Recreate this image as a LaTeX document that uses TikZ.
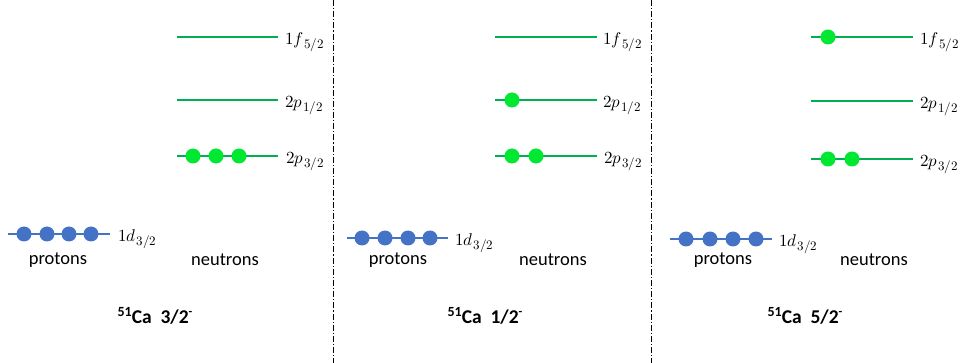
\documentclass[tikz,border=0pt]{standalone}
\usepackage{fontspec}
\setmainfont{Carlito}
\usepackage{unicode-math}
\setmathfont{Latin Modern Math}
\definecolor{pblue}{RGB}{68,114,196}
\definecolor{nline}{RGB}{0,176,80}
\definecolor{ndot}{RGB}{0,232,50}
\newcommand{\lvl}[3]{\fontsize{17}{19}\selectfont$#1#2$\kern0.6pt\raisebox{-3.4pt}{\fontsize{13}{14}\selectfont$#3$}}
\newcommand{\catitle}[1]{\raisebox{7pt}{\fontsize{14}{15}\selectfont$\mathbf{51}$}\bfseries Ca\ \ #1\raisebox{8pt}{\fontsize{12}{13}\selectfont -}}
\tikzset{
  x=1pt,y=-1pt,
  nlevel/.style={draw=nline,line width=1.8pt},
  plevel/.style={draw=pblue,line width=1.8pt},
  ndotst/.style={circle,fill=ndot,inner sep=0pt,minimum size=15pt},
  pdotst/.style={circle,fill=pblue,inner sep=0pt,minimum size=15pt},
  lvlabel/.style={anchor=base west,inner sep=0pt},
  sidelabel/.style={font=\fontsize{18.5}{20}\selectfont,inner sep=0pt},
  titlest/.style={font=\fontsize{19.5}{21}\selectfont,inner sep=0pt,anchor=base},
  divider/.style={draw=black,line width=0.8pt,dash pattern=on 6pt off 2pt on 1.2pt off 2pt}
}
\begin{document}
\begin{tikzpicture}
\useasboundingbox (0,0) rectangle (963,363);
% dividers
\coordinate (d1t) at (333,0); \coordinate (d1b) at (333,363);
\coordinate (d2t) at (651,0); \coordinate (d2b) at (651,363);
\draw[divider] (d1t) -- (d1b);
\draw[divider] (d2t) -- (d2b);

% ---------- panel 1 ----------
\coordinate (a1fL) at (177,37); \coordinate (a1fR) at (278,37);
\coordinate (a2pL) at (177,100); \coordinate (a2pR) at (278,100);
\coordinate (a3pL) at (177,156); \coordinate (a3pR) at (278,156);
\coordinate (adL) at (8,234); \coordinate (adR) at (110,234);
\draw[nlevel] (a1fL) -- (a1fR);
\draw[nlevel] (a2pL) -- (a2pR);
\draw[nlevel] (a3pL) -- (a3pR);
\draw[plevel] (adL) -- (adR);
\node[ndotst] (an1) at (193,156) {};
\node[ndotst] (an2) at (216,156) {};
\node[ndotst] (an3) at (239,156) {};
\node[pdotst] (ap1) at (24,234) {};
\node[pdotst] (ap2) at (47,234) {};
\node[pdotst] (ap3) at (69,234) {};
\node[pdotst] (ap4) at (91,234) {};
\node[lvlabel] (al1) at (285,45) {\lvl{1}{f}{5/2}};
\node[lvlabel] (al2) at (285,108) {\lvl{2}{p}{1/2}};
\node[lvlabel] (al3) at (286,164) {\lvl{2}{p}{3/2}};
\node[lvlabel] (al4) at (118,242) {\lvl{1}{d}{3/2}};
\node[sidelabel] (apr) at (58,260) {protons};
\node[sidelabel] (ane) at (225,260) {neutrons};
\node[titlest] (at) at (155,323) {\catitle{3/2}};

% ---------- panel 2 ----------
\coordinate (b1fL) at (495,37); \coordinate (b1fR) at (597,37);
\coordinate (b2pL) at (495,100); \coordinate (b2pR) at (597,100);
\coordinate (b3pL) at (495,156); \coordinate (b3pR) at (597,156);
\coordinate (bdL) at (347,238); \coordinate (bdR) at (448,238);
\draw[nlevel] (b1fL) -- (b1fR);
\draw[nlevel] (b2pL) -- (b2pR);
\draw[nlevel] (b3pL) -- (b3pR);
\draw[plevel] (bdL) -- (bdR);
\node[ndotst] (bn1) at (512,100) {};
\node[ndotst] (bn2) at (512,156) {};
\node[ndotst] (bn3) at (536,156) {};
\node[pdotst] (bp1) at (362,238) {};
\node[pdotst] (bp2) at (385,238) {};
\node[pdotst] (bp3) at (408,238) {};
\node[pdotst] (bp4) at (430,238) {};
\node[lvlabel] (bl1) at (603,45) {\lvl{1}{f}{5/2}};
\node[lvlabel] (bl2) at (603,108) {\lvl{2}{p}{1/2}};
\node[lvlabel] (bl3) at (604,164) {\lvl{2}{p}{3/2}};
\node[lvlabel] (bl4) at (455,246) {\lvl{1}{d}{3/2}};
\node[sidelabel] (bpr) at (398,260) {protons};
\node[sidelabel] (bne) at (553,260) {neutrons};
\node[titlest] (bt) at (485,323) {\catitle{1/2}};

% ---------- panel 3 ----------
\coordinate (c1fL) at (811,37); \coordinate (c1fR) at (913,37);
\coordinate (c2pL) at (811,101); \coordinate (c2pR) at (913,101);
\coordinate (c3pL) at (811,159); \coordinate (c3pR) at (913,159);
\coordinate (cdL) at (670,239); \coordinate (cdR) at (772,239);
\draw[nlevel] (c1fL) -- (c1fR);
\draw[nlevel] (c2pL) -- (c2pR);
\draw[nlevel] (c3pL) -- (c3pR);
\draw[plevel] (cdL) -- (cdR);
\node[ndotst] (cn1) at (828,37) {};
\node[ndotst] (cn2) at (828,159) {};
\node[ndotst] (cn3) at (852,159) {};
\node[pdotst] (cp1) at (686,239) {};
\node[pdotst] (cp2) at (710,239) {};
\node[pdotst] (cp3) at (733,239) {};
\node[pdotst] (cp4) at (756,239) {};
\node[lvlabel] (cl1) at (920,45) {\lvl{1}{f}{5/2}};
\node[lvlabel] (cl2) at (920,109) {\lvl{2}{p}{1/2}};
\node[lvlabel] (cl3) at (920,167) {\lvl{2}{p}{3/2}};
\node[lvlabel] (cl4) at (779,247) {\lvl{1}{d}{3/2}};
\node[sidelabel] (cpr) at (723,260) {protons};
\node[sidelabel] (cne) at (874,260) {neutrons};
\node[titlest] (ct) at (805,323) {\catitle{5/2}};
\end{tikzpicture}
\end{document}
